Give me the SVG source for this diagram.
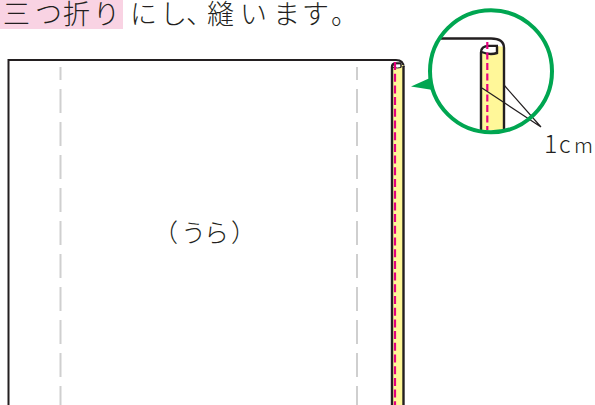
<svg xmlns="http://www.w3.org/2000/svg" width="595" height="405" viewBox="0 0 595 405">
<style>
text{font-family:"Noto Sans CJK JP","Noto Sans CJK SC",sans-serif;fill:#231f20}
.o{fill:none;stroke:#231f20;stroke-width:2}
.k{fill:none;stroke:#231f20;stroke-width:2.400}
.g{fill:none;stroke:#cfcfcf;stroke-width:2}
.d{stroke-dasharray:24 9}
.p{fill:none;stroke:#e6007e;stroke-width:2.200}
.l{fill:none;stroke:#231f20;stroke-width:1.200}
.y{fill:#fff799}
</style>
<rect width="595" height="405" fill="#fff"/>
<g id="title">
<rect x="0" y="0" width="123" height="29" fill="#f9d3e3"/>
<text x="3 35 63 93" y="23.500" font-size="27" font-weight="300">三つ折り</text>
<text x="130 160 186 207 240 273 302 331" y="23.500" font-size="27" font-weight="300">にし、縫います。</text>
</g>
<g id="cloth">
<path class="o" d="M8.500 405V60H396Q403.500 60 403.500 67"/>
<path class="g" d="M60.500 67V80"/><path class="g d" d="M60.500 89V405"/>
<path class="g" d="M357 67V80"/><path class="g d" d="M357 89V405"/>
<text x="153 181 204 231" y="241.500" font-size="25" font-weight="300">（うら）</text>
</g>
<g id="hem">
<rect x="392" y="65" width="11.500" height="340" class="y"/>
<path class="k" d="M392 405V67Q392 63.500 395.500 63.500H401"/>
<path class="k" d="M403.500 405V66"/>
<path d="M393 67.500Q398 68.500 400.500 67.500V64.500H395Z" fill="#fff"/>
<path class="o" d="M401 63.500V67.500" style="stroke-width:1.500"/>
<path class="o" d="M393 67.500Q398 68.500 401 67.500" style="stroke-width:1"/>
<path class="p" d="M395 62V405" stroke-dasharray="8 3.700"/>
</g>
<g id="detail">
<circle cx="491" cy="71.300" r="61" fill="#fff"/>
<path d="M481 52V130H504V47L498 46V52Z" class="y"/>
<path class="k" d="M441 38.500H491Q504 38.500 504 48V130"/>
<path class="k" d="M481 130V52.500Q481 46 489 46H498"/>
<path d="M482 53Q490 55 497 53V47H489Q483 47 482 53Z" fill="#fff"/>
<path class="k" d="M481.500 52Q490 55.500 497 53V46.500"/>
<path class="p" d="M487.300 42V130" stroke-dasharray="7 3.500"/>
<path class="l" d="M504 85L541 127M482 88L541 127"/>
<circle cx="491" cy="71.300" r="61" fill="none" stroke="#00a651" stroke-width="4"/>
<path d="M411 86.500L430 78L433 90Z" fill="#00a651"/>
<text y="153" font-weight="300"><tspan x="544" font-size="25">1</tspan><tspan x="559" font-size="23">c</tspan><tspan x="574" font-size="21">m</tspan></text>
</g>
</svg>
